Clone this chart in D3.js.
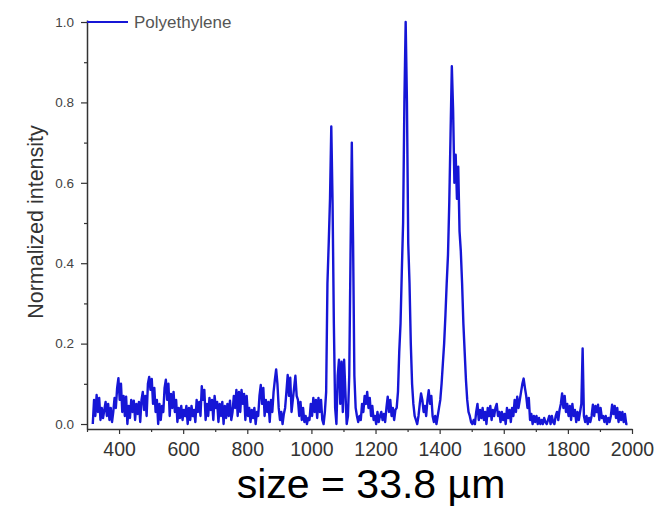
<!DOCTYPE html>
<html>
<head>
<meta charset="utf-8">
<script src="https://cdn.jsdelivr.net/npm/d3@7"></script>
<style>
  html, body { margin: 0; padding: 0; background: #fff; }
  svg { display: block; }
  text { font-family: "Liberation Sans", Arial, sans-serif; }
</style>
</head>
<body>
<svg id="chart" width="659" height="508"></svg>
<script>
// Raman spectrum of a polyethylene particle, sampled every 4 cm^-1 from 318 cm^-1
const seriesName = "Polyethylene";
const wavenumberStart = 318;
const wavenumberStep = 4;
const intensity = [
  // 318 - 414
  0.0, 0.06, 0.02, 0.072, 0.03, 0.065, 0.01, 0.04, 0.015, 0.035, 0.055, 0.02, 0.05, 0.01, 0.04, 0.005, 0.03, 0.065, 0.04, 0.09, 0.114, 0.06, 0.1, 0.03, 0.07,
  // 418 - 514
  0.02, 0.068, 0.0, 0.045, 0.015, 0.06, 0.03, 0.058, 0.01, 0.05, 0.025, 0.055, 0.005, 0.06, 0.08, 0.035, 0.07, 0.02, 0.1, 0.117, 0.085, 0.112, 0.05, 0.09, 0.03,
  // 518 - 614
  0.06, 0.0, 0.05, 0.01, 0.045, 0.03, 0.09, 0.11, 0.06, 0.1, 0.02, 0.075, 0.04, 0.08, 0.03, 0.06, 0.005, 0.04, 0.015, 0.045, 0.01, 0.035, 0.02, 0.045, 0.0,
  // 618 - 714
  0.04, 0.01, 0.045, 0.02, 0.035, 0.005, 0.06, 0.03, 0.055, 0.02, 0.094, 0.06, 0.085, 0.01, 0.05, 0.02, 0.065, 0.035, 0.06, 0.01, 0.07, 0.04, 0.055, 0.005, 0.05,
  // 718 - 814
  0.02, 0.055, 0.0, 0.045, 0.015, 0.05, 0.02, 0.058, 0.01, 0.03, 0.07, 0.04, 0.085, 0.02, 0.08, 0.03, 0.085, 0.05, 0.075, 0.01, 0.07, 0.02, 0.04, 0.005, 0.035,
  // 818 - 914
  0.015, 0.04, 0.0, 0.03, 0.02, 0.07, 0.097, 0.05, 0.09, 0.02, 0.06, 0.03, 0.055, 0.005, 0.06, 0.03, 0.08, 0.11, 0.136, 0.1, 0.04, 0.01, 0.03, 0.0, 0.025,
  // 918 - 1014
  0.04, 0.08, 0.122, 0.07, 0.115, 0.03, 0.06, 0.09, 0.12, 0.07, 0.06, 0.02, 0.055, 0.01, 0.04, 0.005, 0.02, 0.0, 0.015, 0.01, 0.05, 0.02, 0.065, 0.03, 0.06,
  // 1018 - 1114
  0.015, 0.065, 0.03, 0.06, 0.01, 0.0, 0.03, 0.08, 0.35, 0.45, 0.56, 0.74, 0.55, 0.25, 0.04, 0.0, 0.12, 0.16, 0.05, 0.155, 0.03, 0.16, 0.08, 0.0, 0.02,
  // 1118 - 1214
  0.12, 0.42, 0.70, 0.45, 0.12, 0.04, 0.02, 0.005, 0.02, 0.01, 0.05, 0.03, 0.07, 0.05, 0.08, 0.04, 0.065, 0.02, 0.045, 0.01, 0.02, 0.0, 0.03, 0.005, 0.02,
  // 1218 - 1314
  0.03, 0.01, 0.025, 0.005, 0.04, 0.068, 0.03, 0.06, 0.02, 0.04, 0.01, 0.035, 0.04, 0.08, 0.18, 0.25, 0.38, 0.5, 0.8, 1.0, 0.8, 0.45, 0.35, 0.2, 0.1,
  // 1318 - 1414
  0.05, 0.02, 0.01, 0.0, 0.02, 0.05, 0.076, 0.06, 0.03, 0.045, 0.02, 0.06, 0.084, 0.05, 0.07, 0.02, 0.005, 0.02, 0.0, 0.02, 0.04, 0.06, 0.1, 0.15, 0.2,
  // 1418 - 1514
  0.27, 0.35, 0.42, 0.55, 0.72, 0.89, 0.78, 0.6, 0.67, 0.56, 0.64, 0.48, 0.43, 0.35, 0.25, 0.18, 0.11, 0.06, 0.03, 0.02, 0.005, 0.0, 0.01, 0.0, 0.03,
  // 1518 - 1614
  0.05, 0.01, 0.035, 0.015, 0.04, 0.01, 0.03, 0.0, 0.04, 0.02, 0.045, 0.01, 0.035, 0.02, 0.04, 0.05, 0.02, 0.03, 0.005, 0.03, 0.01, 0.025, 0.0, 0.04, 0.015,
  // 1618 - 1714
  0.035, 0.005, 0.04, 0.02, 0.06, 0.03, 0.068, 0.04, 0.06, 0.08, 0.1, 0.113, 0.09, 0.07, 0.04, 0.065, 0.01, 0.025, 0.0, 0.02, 0.005, 0.02, 0.0, 0.015, 0.0,
  // 1718 - 1814
  0.01, 0.0, 0.015, 0.005, 0.0, 0.01, 0.02, 0.0, 0.02, 0.005, 0.0, 0.02, 0.03, 0.01, 0.035, 0.05, 0.076, 0.04, 0.07, 0.03, 0.05, 0.02, 0.045, 0.01, 0.05,
  // 1818 - 1914
  0.02, 0.035, 0.005, 0.03, 0.01, 0.03, 0.05, 0.188, 0.02, 0.005, 0.02, 0.0, 0.015, 0.005, 0.02, 0.048, 0.02, 0.045, 0.03, 0.048, 0.01, 0.04, 0.015, 0.02, 0.005,
  // 1918 - 1986
  0.02, 0.0, 0.015, 0.005, 0.02, 0.048, 0.025, 0.045, 0.015, 0.04, 0.005, 0.03, 0.01, 0.03, 0.005, 0.025, 0.0, 0.0
];

const xMajorTicks = [400, 600, 800, 1000, 1200, 1400, 1600, 1800, 2000];
const xMinorTicks = [300, 500, 700, 900, 1100, 1300, 1500, 1700, 1900];
const yMajorTicks = [0.0, 0.2, 0.4, 0.6, 0.8, 1.0];
const yMinorTicks = [0.1, 0.3, 0.5, 0.7, 0.9];
const yTitle = "Normalized intensity";
const caption = "size = 33.8 \u00b5m";

const spectrum = intensity.map((v, i) => ({ w: wavenumberStart + i * wavenumberStep, v }));

const svg = d3.select("#chart");
const lineColor = "#1616d6";
const axisColor = "#333";

const x = d3.scaleLinear().domain([300, 2000]).range([87, 632]);
const y = d3.scaleLinear().domain([-0.0124, 1.005]).range([429, 20]);

// spectrum line
svg.append("path")
  .datum(spectrum)
  .attr("fill", "none")
  .attr("stroke", lineColor)
  .attr("stroke-width", 2.4)
  .attr("stroke-linejoin", "round")
  .attr("d", d3.line().x(d => x(d.w)).y(d => y(d.v)));

// x axis: major + minor ticks
const xAxisG = svg.append("g").attr("transform", `translate(0,${y.range()[0]})`);
xAxisG.call(d3.axisBottom(x).tickValues(xMajorTicks).tickSize(5).tickSizeOuter(0).tickFormat(d3.format("d")));
xAxisG.append("g").call(d3.axisBottom(x).tickValues(xMinorTicks).tickSize(3).tickFormat(""))
  .select(".domain").remove();

// y axis: major + minor ticks
const yAxisG = svg.append("g").attr("transform", `translate(${x.range()[0]},0)`);
yAxisG.call(d3.axisLeft(y).tickValues(yMajorTicks).tickSize(6).tickSizeOuter(0).tickFormat(d3.format(".1f")));
yAxisG.append("g").call(d3.axisLeft(y).tickValues(yMinorTicks).tickSize(3).tickFormat(""))
  .select(".domain").remove();

svg.selectAll(".domain").attr("stroke", axisColor).attr("stroke-width", 1.5);
svg.selectAll(".tick line").attr("stroke", axisColor).attr("stroke-width", 1.2);

xAxisG.selectAll(".tick text")
  .attr("font-size", 19.5)
  .attr("fill", "#333")
  .attr("dy", "0.95em");
yAxisG.selectAll(".tick text")
  .attr("font-size", 13.5)
  .attr("fill", "#444")
  .attr("x", -13);

// y title
svg.append("text")
  .attr("transform", `translate(43,222) rotate(-90)`)
  .attr("text-anchor", "middle")
  .attr("font-size", 21.5)
  .attr("fill", "#333")
  .text(yTitle);

// legend
svg.append("line")
  .attr("x1", x(300)).attr("x2", x(300) + 41)
  .attr("y1", y(1.0)).attr("y2", y(1.0))
  .attr("stroke", lineColor).attr("stroke-width", 2);
svg.append("text")
  .attr("x", x(300) + 47).attr("y", y(1.0))
  .attr("dy", "0.35em")
  .attr("font-size", 17)
  .attr("fill", "#555")
  .text(seriesName);

// caption under the chart
svg.append("text")
  .attr("x", 371).attr("y", 498)
  .attr("text-anchor", "middle")
  .attr("font-size", 41)
  .attr("fill", "#000")
  .text(caption);
</script>
</body>
</html>
